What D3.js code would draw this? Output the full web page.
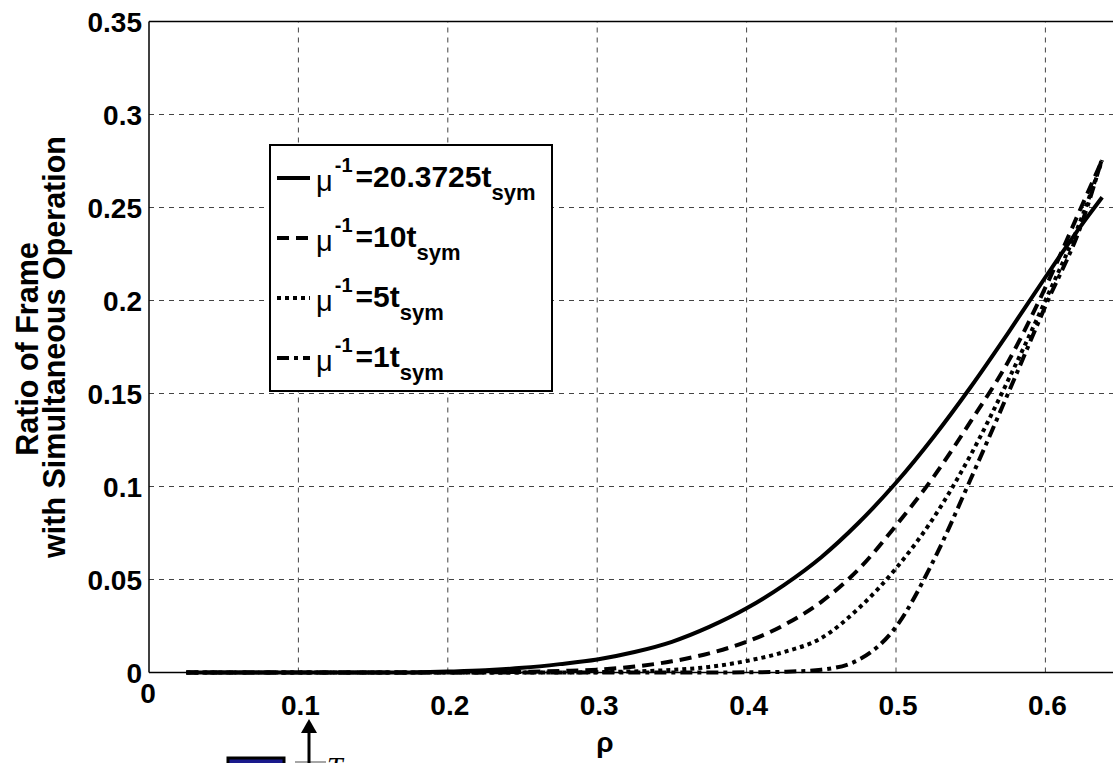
<!DOCTYPE html>
<html>
<head>
<meta charset="utf-8">
<script src="https://cdn.jsdelivr.net/npm/d3@7"></script>
<style>
  html, body { margin: 0; padding: 0; background: #fff; overflow: hidden; }
  svg { display: block; }
  text { font-family: 'Liberation Sans', Arial, sans-serif; font-weight: bold; fill: #000; }
</style>
</head>
<body>
<div id="chart"></div>
<script>
// rho samples and the four curves
var rho = [0.025, 0.05, 0.075, 0.1, 0.125, 0.15, 0.175, 0.2, 0.225, 0.25, 0.275, 0.3, 0.325,
           0.35, 0.375, 0.4, 0.425, 0.45, 0.475, 0.5, 0.525, 0.55, 0.575, 0.6, 0.625, 0.638];
var mu20 = [0, 0, 0, 0, 0, 0, 0, 0.0005, 0.0012, 0.0025, 0.0045, 0.007, 0.011,
            0.0165, 0.0245, 0.0345, 0.047, 0.062, 0.0805, 0.102, 0.1265, 0.1535, 0.1825, 0.2125, 0.2415, 0.2555];
var mu10 = [0, 0, 0, 0, 0, 0, 0, 0, 0.0001, 0.0003, 0.0008, 0.0015, 0.0032,
            0.006, 0.0103, 0.0165, 0.0255, 0.038, 0.0555, 0.079, 0.105, 0.135, 0.167, 0.207, 0.252, 0.2755];
var mu5  = [0, 0, 0, 0, 0, 0, 0, 0, 0, 0, 0, 0.0002, 0.0006,
            0.0014, 0.003, 0.0062, 0.011, 0.0185, 0.0345, 0.056, 0.083, 0.117, 0.157, 0.2, 0.246, 0.2755];
var mu1  = [0, 0, 0, 0, 0, 0, 0, 0, 0, 0, 0, 0, 0,
            0, 0, 0.0001, 0.0004, 0.0015, 0.0068, 0.0245, 0.06, 0.104, 0.15, 0.197, 0.243, 0.2765];

var seriesNames = ['20.3725', '10', '5', '1'];
var seriesDash = [null, '12,7', '4,4', '12,5,4,5'];
var xTicks = [0, 0.1, 0.2, 0.3, 0.4, 0.5, 0.6];
var yTicks = [0, 0.05, 0.1, 0.15, 0.2, 0.25, 0.3, 0.35];

var width = 1113, height = 763;
var margin = {top: 21.5, left: 149, bottom: 672.5};

var svg = d3.select('#chart').append('svg')
    .attr('width', width)
    .attr('height', height);

var x = d3.scaleLinear().domain([0, 0.7]).range([margin.left, margin.left + 0.7 * 1494]);
var y = d3.scaleLinear().domain([0, 0.35]).range([margin.bottom, margin.top]);

// grid
svg.append('g').selectAll('line.vg')
    .data(xTicks.slice(1))
    .enter().append('line')
    .attr('x1', d => x(d)).attr('x2', d => x(d))
    .attr('y1', y(0)).attr('y2', y(0.35))
    .style('stroke', '#444').style('stroke-width', 1).style('stroke-dasharray', '5,5');
svg.append('g').selectAll('line.hg')
    .data(yTicks.slice(1, -1))
    .enter().append('line')
    .attr('x1', x(0)).attr('x2', x(0.7))
    .attr('y1', d => y(d)).attr('y2', d => y(d))
    .style('stroke', '#444').style('stroke-width', 1).style('stroke-dasharray', '5,5');

// axes box (right side runs off the page)
svg.append('line').attr('x1', x(0)).attr('x2', x(0)).attr('y1', y(0)).attr('y2', y(0.35))
    .style('stroke', '#000').style('stroke-width', 1.5);
svg.append('line').attr('x1', x(0)).attr('x2', x(0.7)).attr('y1', y(0.35)).attr('y2', y(0.35))
    .style('stroke', '#000').style('stroke-width', 1.5);
svg.append('line').attr('x1', x(0)).attr('x2', x(0.7)).attr('y1', y(0)).attr('y2', y(0))
    .style('stroke', '#000').style('stroke-width', 1.5);

// tick labels
svg.append('g').selectAll('text')
    .data(yTicks)
    .enter().append('text')
    .attr('x', 142)
    .attr('y', d => y(d) + 10)
    .attr('text-anchor', 'end')
    .style('font-size', '28px')
    .text(d => d === 0 ? '0' : d3.format('.2~f')(d));
svg.append('g').selectAll('text')
    .data(xTicks)
    .enter().append('text')
    .attr('x', d => d === 0 ? x(d) - 1 : x(d) + 2)
    .attr('y', d => d === 0 ? 703 : 715)
    .attr('text-anchor', 'middle')
    .style('font-size', '28px')
    .text(d => d === 0 ? '0' : d3.format('.1f')(d));

// axis labels
svg.append('text')
    .attr('transform', 'translate(38,349) rotate(-90)')
    .attr('text-anchor', 'middle')
    .style('font-size', '30.5px')
    .text('Ratio of Frame');
svg.append('text')
    .attr('transform', 'translate(65,347) rotate(-90)')
    .attr('text-anchor', 'middle')
    .style('font-size', '30.5px')
    .text('with Simultaneous Operation');
svg.append('text')
    .attr('x', 605).attr('y', 752)
    .attr('text-anchor', 'middle')
    .style('font-size', '28px')
    .text('ρ');

// curves
var curves = [mu20, mu10, mu5, mu1];
var line = d3.line()
    .x(d => x(d[0]))
    .y(d => y(d[1]))
    .curve(d3.curveMonotoneX);

curves.forEach(function (vals, i) {
    svg.append('path')
        .datum(rho.map((r, j) => [r, vals[j]]))
        .attr('d', line)
        .style('fill', 'none')
        .style('stroke', '#000')
        .style('stroke-width', 4)
        .style('stroke-dasharray', seriesDash[i]);
});

// legend
var lg = svg.append('g');
lg.append('rect')
    .attr('x', 270).attr('y', 145)
    .attr('width', 282).attr('height', 246)
    .style('fill', '#fff').style('stroke', '#000').style('stroke-width', 2);

seriesNames.forEach(function (name, i) {
    var base = 187 + i * 60;
    lg.append('line')
        .attr('x1', 277).attr('x2', 310)
        .attr('y1', base - 9).attr('y2', base - 9)
        .style('stroke', '#000').style('stroke-width', 4)
        .style('stroke-dasharray', seriesDash[i]);
    var t = lg.append('text').attr('x', 316).attr('y', base + 4);
    t.append('tspan').style('font-size', '29px').style('font-weight', 'normal').text('μ');
    t.append('tspan').style('font-size', '20px').attr('dx', 2).attr('dy', -19).text('-1');
    t.append('tspan').style('font-size', '30px').attr('dx', 3).attr('dy', 15).text('=' + name + 't');
    t.append('tspan').style('font-size', '22px').attr('dy', 13).text('sym');
});

// stray bits at the bottom edge
svg.append('rect')
    .attr('x', 228).attr('y', 758).attr('width', 56).attr('height', 12)
    .style('fill', '#1a1a8c').style('stroke', '#000').style('stroke-width', 3);
svg.append('line')
    .attr('x1', 295).attr('x2', 326).attr('y1', 762).attr('y2', 762)
    .style('stroke', '#888').style('stroke-width', 1.5);
svg.append('line')
    .attr('x1', 309).attr('x2', 309).attr('y1', 730).attr('y2', 765)
    .style('stroke', '#000').style('stroke-width', 3);
svg.append('path')
    .attr('d', 'M301,733 L309,719 L317,733 Z')
    .style('fill', '#000');
svg.append('text')
    .attr('x', 327).attr('y', 776)
    .style('font-family', "'Liberation Serif', serif")
    .style('font-style', 'italic').style('font-weight', 'normal')
    .style('font-size', '28px')
    .text('T');
</script>
</body>
</html>
